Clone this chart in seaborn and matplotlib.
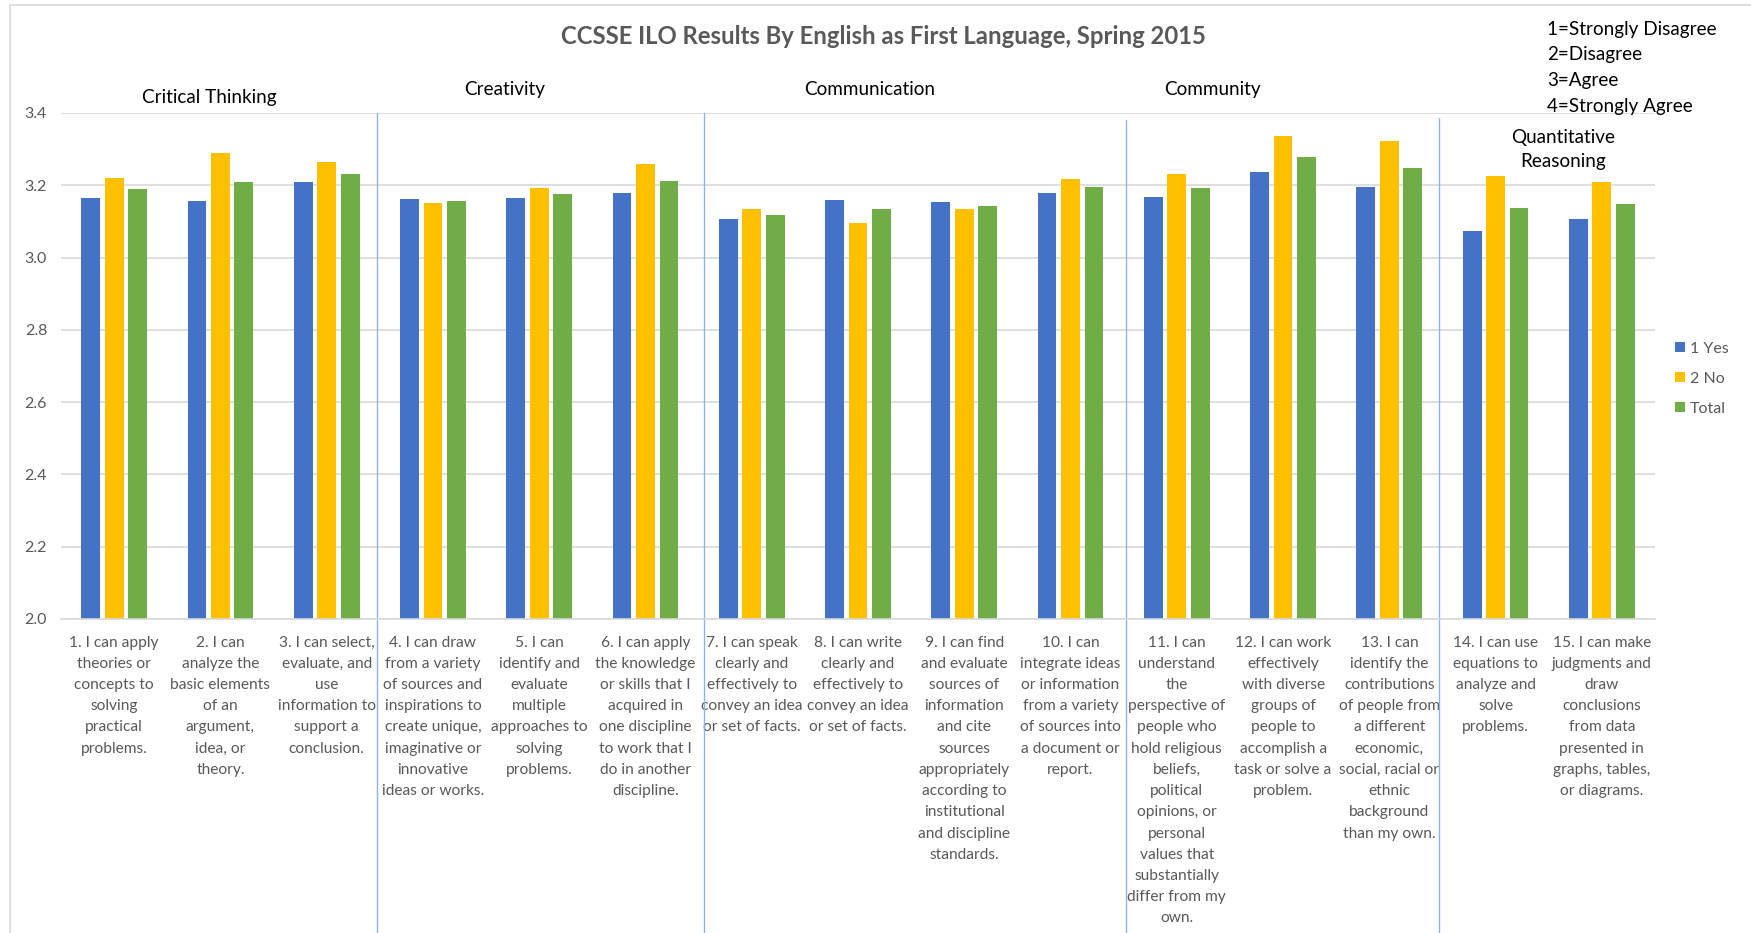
import pandas as pd
import seaborn as sns
import matplotlib.pyplot as plt
from matplotlib.lines import Line2D
from matplotlib.transforms import blended_transform_factory

# Itens do questionário (rótulos já quebrados como no original)
itens = [
    "1. I can apply\ntheories or\nconcepts to\nsolving\npractical\nproblems.",
    "2. I can\nanalyze the\nbasic elements\nof an\nargument,\nidea, or\ntheory.",
    "3. I can select,\nevaluate, and\nuse\ninformation to\nsupport a\nconclusion.",
    "4. I can draw\nfrom a variety\nof sources and\ninspirations to\ncreate unique,\nimaginative or\ninnovative\nideas or works.",
    "5. I can\nidentify and\nevaluate\nmultiple\napproaches to\nsolving\nproblems.",
    "6. I can apply\nthe knowledge\nor skills that I\nacquired in\none discipline\nto work that I\ndo in another\ndiscipline.",
    "7. I can speak\nclearly and\neffectively to\nconvey an idea\nor set of facts.",
    "8. I can write\nclearly and\neffectively to\nconvey an idea\nor set of facts.",
    "9. I can find\nand evaluate\nsources of\ninformation\nand cite\nsources\nappropriately\naccording to\ninstitutional\nand discipline\nstandards.",
    "10. I can\nintegrate ideas\nor information\nfrom a variety\nof sources into\na document or\nreport.",
    "11. I can\nunderstand\nthe\nperspective of\npeople who\nhold religious\nbeliefs,\npolitical\nopinions, or\npersonal\nvalues that\nsubstantially\ndiffer from my\nown.",
    "12. I can work\neffectively\nwith diverse\ngroups of\npeople to\naccomplish a\ntask or solve a\nproblem.",
    "13. I can\nidentify the\ncontributions\nof people from\na different\neconomic,\nsocial, racial or\nethnic\nbackground\nthan my own.",
    "14. I can use\nequations to\nanalyze and\nsolve\nproblems.",
    "15. I can make\njudgments and\ndraw\nconclusions\nfrom data\npresented in\ngraphs, tables,\nor diagrams.",
]

sim = [3.165, 3.156, 3.208, 3.162, 3.165, 3.180, 3.108, 3.158, 3.155, 3.178, 3.167, 3.238, 3.195, 3.073, 3.106]
nao = [3.220, 3.289, 3.264, 3.150, 3.193, 3.258, 3.134, 3.096, 3.134, 3.218, 3.231, 3.337, 3.322, 3.225, 3.208]
total = [3.190, 3.210, 3.230, 3.156, 3.177, 3.213, 3.119, 3.134, 3.144, 3.196, 3.193, 3.279, 3.247, 3.136, 3.147]

grupos = ["1 Yes", "2 No", "Total"]
cores = ["#4472C4", "#FFC000", "#70AD47"]

dominios = ["Critical Thinking", "Creativity", "Communication", "Community", "Quantitative\nReasoning"]
escala = ["1=Strongly Disagree", "2=Disagree", "3=Agree", "4=Strongly Agree"]

dados = pd.DataFrame({"item": itens, grupos[0]: sim, grupos[1]: nao, grupos[2]: total})
dados = dados.melt(id_vars="item", var_name="grupo", value_name="media")

sns.set_style("white")
plt.rcParams["font.family"] = ["Lato", "DejaVu Sans"]

cinza = "#595959"
fig = plt.figure(figsize=(17.51, 9.33), dpi=100)
ax = fig.add_axes([61 / 1751, 1 - 619 / 933, (1655 - 61) / 1751, (619 - 113) / 933])

sns.barplot(data=dados, x="item", y="media", hue="grupo", palette=cores, saturation=1,
            width=0.663, gap=0.2, linewidth=0, ax=ax, legend=True)

ax.set_ylim(2.0, 3.4)
ax.set_xlim(-0.5, 14.5)
ax.set_yticks([2.0, 2.2, 2.4, 2.6, 2.8, 3.0, 3.2, 3.4])
ax.yaxis.set_major_formatter(plt.FormatStrFormatter("%.1f"))
ax.grid(axis="y", color="#D9D9D9", linewidth=1.2)
ax.set_axisbelow(True)
for lado in ["left", "right", "top"]:
    ax.spines[lado].set_visible(False)
ax.spines["bottom"].set_color("#D9D9D9")
ax.spines["bottom"].set_linewidth(1.2)
ax.set_xlabel("")
ax.set_ylabel("")
ax.tick_params(axis="y", length=0, pad=10, labelsize=11.5, labelcolor=cinza)
ax.tick_params(axis="x", length=0, pad=12, labelsize=11.2, labelcolor=cinza)
for t in ax.get_xticklabels():
    t.set_linespacing(1.655)
    t.set_va("top")

# Legenda à direita
ax.legend(loc="center left", bbox_to_anchor=(1667 / 1751, 1 - 379 / 933),
          bbox_transform=fig.transFigure, frameon=False, fontsize=11.5,
          labelcolor=cinza, handlelength=0.6, handleheight=0.6,
          handletextpad=0.35, labelspacing=1.0, borderpad=0)

# Linhas separadoras dos domínios
trans = blended_transform_factory(ax.transData, ax.transAxes)
separadores = [(2.47, 1.0), (5.55, 1.0), (9.52, 0.986), (12.47, 0.99)]
for xs, topo in separadores:
    ax.add_line(Line2D([xs, xs], [topo, -0.63], transform=trans, color="#8DB4E2",
                       linewidth=1, clip_on=False))

# Títulos dos domínios
pos_dominios = [(0.90, 3.444), (3.67, 3.464), (7.11, 3.464), (10.34, 3.464), (13.64, 3.30)]
for nome, (xd, yd) in zip(dominios, pos_dominios):
    ax.text(xd, yd, nome, ha="center", va="center", fontsize=13.6, color="black",
            linespacing=1.5)

# Título
fig.text(883 / 1751, 1 - 37 / 933, "CCSSE ILO Results By English as First Language, Spring 2015",
         ha="center", va="center", fontsize=17.2, fontweight="bold", color=cinza)

# Escala de respostas
for i, linha in enumerate(escala):
    fig.text(1547 / 1751, 1 - (29 + i * 25.7) / 933, linha, ha="left", va="center",
             fontsize=13.6, color="black")

# Moldura (esquerda e topo)
fig.add_artist(Line2D([10 / 1751, 10 / 1751], [0, 1 - 5 / 933], transform=fig.transFigure,
                      color="#D9D9D9", linewidth=1.2))
fig.add_artist(Line2D([10 / 1751, 1], [1 - 5 / 933, 1 - 5 / 933], transform=fig.transFigure,
                      color="#D9D9D9", linewidth=1.2))

fig.savefig("out.png", dpi=100, facecolor="white")
